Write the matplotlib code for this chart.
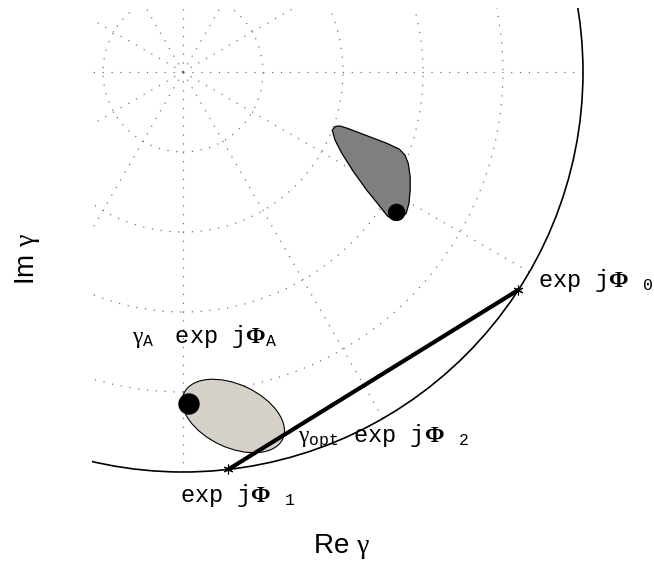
import numpy as np
import matplotlib
matplotlib.use("Agg")
import matplotlib.pyplot as plt
from matplotlib.patches import Polygon, Ellipse, Circle, Rectangle

plt.rcParams['mathtext.fontset'] = 'custom'
plt.rcParams['mathtext.tt'] = 'Liberation Mono'
plt.rcParams['mathtext.rm'] = 'Liberation Serif'
plt.rcParams['mathtext.bf'] = 'Liberation Serif:bold'
plt.rcParams['mathtext.it'] = 'Liberation Serif:italic'
plt.rcParams['mathtext.sf'] = 'Liberation Sans'

# polar grid of the gamma plane
grid_radii = [0.2, 0.4, 0.6, 0.8]
grid_angles = np.arange(0, 360, 30)

# phases of the two points on the unit circle (degrees)
phi0 = -33.0
phi1 = -83.5

# light region around gamma_A
ell_center = (0.126, -0.86)
ell_width = 0.272
ell_height = 0.158
ell_angle = -25

# dark region (image of the light one)
blob_x = [0.373, 0.381, 0.392, 0.409, 0.459, 0.509, 0.541, 0.555, 0.563, 0.568, 0.568,
          0.565, 0.558, 0.543, 0.526, 0.511, 0.493, 0.459, 0.426, 0.397, 0.380]
blob_y = [-0.145, -0.136, -0.135, -0.140, -0.159, -0.178, -0.193, -0.208, -0.228, -0.262, -0.295,
          -0.328, -0.353, -0.368, -0.370, -0.360, -0.337, -0.295, -0.249, -0.203, -0.170]

dot_big = (0.015, -0.83)
dot_small = (0.534, -0.351)

fig = plt.figure(figsize=(6.54, 5.69), dpi=100)
ax = fig.add_axes([0, 0, 1, 1])
ax.set_xlim(-0.4575, 1.1775)
ax.set_ylim(-1.2425, 0.18)
ax.axis('off')

clip = Rectangle((-0.2275, -1.2), 1.5, 1.36, transform=ax.transData)

dots = dict(color='0.4', lw=0.85, linestyle=(0, (1, 6.5)), zorder=1)
for r in grid_radii:
    c = Circle((0, 0), r, fill=False, **dots)
    ax.add_patch(c)
    c.set_clip_path(clip)
for a in np.deg2rad(grid_angles):
    ln, = ax.plot([0, np.cos(a)], [0, np.sin(a)], **dots)
    ln.set_clip_path(clip)

unit = Circle((0, 0), 1, fill=False, color='k', lw=1.2, zorder=3)
ax.add_patch(unit)
unit.set_clip_path(clip)

ax.add_patch(Ellipse(ell_center, ell_width, ell_height, angle=ell_angle,
                     facecolor='#d5d1c9', edgecolor='k', lw=0.8, zorder=2))
ax.add_patch(Polygon(np.column_stack([blob_x, blob_y]), closed=True,
                     facecolor='#7f7f7f', edgecolor='k', lw=0.9, joinstyle='round', zorder=2))
ax.add_patch(Circle(dot_big, 0.025, color='k', zorder=5))
ax.add_patch(Circle(dot_small, 0.02, color='k', zorder=5))

p = np.deg2rad([phi1, phi0])
ax.plot(np.cos(p), np.sin(p), color='k', lw=3.0, zorder=4, solid_capstyle='round')
ax.plot(np.cos(p), np.sin(p), linestyle='none', marker=(6, 2, 0), ms=7, mew=0.8,
        color='k', zorder=5)

fs = 17
ax.text(-0.1275, -0.6775,
        r'$\mathrm{\gamma}_{\mathtt{A}}\quad\;\mathtt{exp}\;\;\;\mathtt{j}\mathbf{\Phi}_{\mathtt{A}}$',
        fontsize=fs, ha='left', va='baseline', zorder=6)
ax.text(0.8875, -0.5375,
        r'$\mathtt{exp}\;\;\;\mathtt{j}\mathbf{\Phi}\;\;\;{}_{\mathtt{0}}$',
        fontsize=fs, ha='left', va='baseline', zorder=6)
ax.text(-0.0075, -1.075,
        r'$\mathtt{exp}\;\;\;\mathtt{j}\mathbf{\Phi}\;\;\;{}_{\mathtt{1}}$',
        fontsize=fs, ha='left', va='baseline', zorder=6)
ax.text(0.2875, -0.925,
        r'$\mathrm{\gamma}_{\mathtt{opt}}\;\;\;\mathtt{exp}\;\;\;\mathtt{j}\mathbf{\Phi}\;\;\;{}_{\mathtt{2}}$',
        fontsize=fs, ha='left', va='baseline', zorder=6)

ax.text(0.395, -1.2025, r'Re $\mathrm{\gamma}$', fontsize=20, family='Liberation Sans',
        ha='center', va='baseline')
ax.text(-0.3875, -0.4675, r'Im $\mathrm{\gamma}$', fontsize=20, family='Liberation Sans',
        rotation=90, ha='center', va='center')

fig.savefig('out.png', dpi=100)
